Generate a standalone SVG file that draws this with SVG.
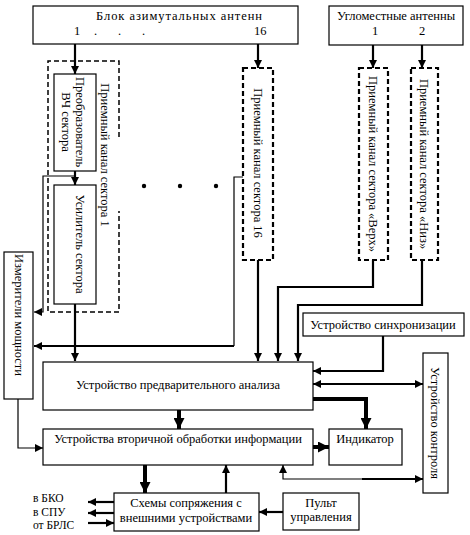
<svg xmlns="http://www.w3.org/2000/svg" width="470" height="535" viewBox="0 0 470 535">
<defs>
<style>
text{font-family:"Liberation Serif","Times New Roman",serif;font-size:12.5px;fill:#000}
.c{text-anchor:middle}
.v{text-anchor:middle;dominant-baseline:central}
.s{font-size:11.5px}
.box{fill:#fff;stroke:#000;stroke-width:1.2}
.d1{fill:none;stroke:#000;stroke-width:1.5;stroke-dasharray:5 3}
.d2{fill:none;stroke:#000;stroke-width:2.2;stroke-dasharray:5 3}
.w1{fill:none;stroke:#000;stroke-width:1.2}
.w2{fill:none;stroke:#000;stroke-width:2.2}
.w3{fill:none;stroke:#000;stroke-width:4}
</style>
<marker id="a" viewBox="0 0 8 8" refX="8" refY="4" markerWidth="8" markerHeight="8" markerUnits="userSpaceOnUse" orient="auto-start-reverse"><path d="M0,0 L8,4 L0,8 z" fill="#000"/></marker>
<marker id="b" viewBox="0 0 10 10" refX="10" refY="5" markerWidth="11" markerHeight="11" markerUnits="userSpaceOnUse" orient="auto"><path d="M0,0 L10,5 L0,10 z" fill="#000"/></marker>
</defs>
<rect width="470" height="535" fill="#fff"/>

<g id="connectors">
<path class="w2" d="M75,44 V74" marker-end="url(#a)"/>
<path class="w2" d="M258,44 V68" marker-end="url(#a)"/>
<path class="w2" d="M373,45 V68" marker-end="url(#a)"/>
<path class="w2" d="M422,45 V68" marker-end="url(#a)"/>
<path class="w2" d="M75,171 V185" marker-end="url(#a)"/>
<path class="w2" d="M75,304 V361" marker-end="url(#a)"/>
<path class="w1" d="M75,176 H43 V312 H34" marker-end="url(#a)"/>
<path class="w1" d="M243,177 H234 V346"/>
<path class="w2" d="M234,346 H34" marker-end="url(#a)"/>
<path class="w2" d="M258,260 V361" marker-end="url(#a)"/>
<path class="w2" d="M373,260 V287 H278 V361" marker-end="url(#a)"/>
<path class="w2" d="M422,260 V305 H298 V361" marker-end="url(#a)"/>
<path class="w2" d="M383,336 V371 H313" marker-end="url(#a)"/>
<path class="w2" d="M313,384 H423" marker-start="url(#a)" marker-end="url(#a)"/>
<path class="w3" d="M313,399 H366 V429" marker-end="url(#b)"/>
<path class="w3" d="M179,410 V429" marker-end="url(#b)"/>
<path class="w1" d="M18,399 V448 H43" marker-end="url(#a)"/>
<path class="w3" d="M313,447 H329" marker-end="url(#b)"/>
<path class="w1" d="M362,479 H283 V465" marker-end="url(#a)"/>
<path class="w2" d="M362,479 H423" marker-end="url(#a)"/>
<path class="w3" d="M145,465 V493" marker-end="url(#b)"/>
<path class="w2" d="M226,493 V465" marker-end="url(#a)"/>
<path class="w2" d="M283,512 H259" marker-end="url(#a)"/>
<path class="w2" d="M114,502 H88" marker-end="url(#a)"/>
<path class="w2" d="M114,513 H88" marker-end="url(#a)"/>
<path class="w2" d="M88,523 H114" marker-end="url(#a)"/>
</g>

<g id="azimuth-antennas">
<rect class="box" x="33" y="6" width="265" height="38"/>
<text x="96" y="20" textLength="166" lengthAdjust="spacing">Блок азимутальных антенн</text>
<text x="74" y="35">1</text>
<text x="94" y="35">.</text>
<text x="118" y="35">.</text>
<text x="142" y="35">.</text>
<text x="254" y="35">16</text>
</g>

<g id="elevation-antennas">
<rect class="box" x="329" y="6" width="134" height="39"/>
<text class="c" x="396" y="20">Угломестные антенны</text>
<text class="c" x="375" y="35">1</text>
<text class="c" x="422" y="35">2</text>
</g>

<g id="sector1">
<path class="d1" d="M119,137 V61 H48 V312 H119 V211"/>
<text class="v" transform="translate(105,155) rotate(90)">Приемный канал сектора 1</text>
</g>

<g id="hf-converter">
<rect class="box" x="54" y="74" width="42" height="97"/>
<text class="v" transform="translate(80,122) rotate(90)">Преобразователь</text>
<text class="v" transform="translate(66,122) rotate(90)">ВЧ сектора</text>
</g>

<g id="amplifier">
<rect class="box" x="54" y="185" width="42" height="119"/>
<text class="v" transform="translate(80,244) rotate(90)">Усилитель сектора</text>
</g>

<g id="dots">
<circle cx="144" cy="186" r="2.2"/>
<circle cx="180" cy="186" r="2.2"/>
<circle cx="216" cy="186" r="2.2"/>
</g>

<g id="sector16">
<rect class="d2" x="243" y="68" width="30" height="192"/>
<text class="v" transform="translate(258,163) rotate(90)">Приемный канал сектора 16</text>
</g>

<g id="sector-verkh">
<rect class="d2" x="359" y="68" width="29" height="192"/>
<text class="v" transform="translate(373,164) rotate(90)">Приемный канал сектора «Верх»</text>
</g>

<g id="sector-niz">
<rect class="d2" x="411" y="68" width="27" height="192"/>
<text class="v" transform="translate(424,164) rotate(90)">Приемный канал сектора «Низ»</text>
</g>

<g id="power-meter">
<rect class="box" x="4" y="252" width="29" height="147"/>
<text class="v" transform="translate(19,315) rotate(90)">Измерители мощности</text>
</g>

<g id="sync">
<rect class="box" x="303" y="313" width="161" height="23"/>
<text class="c" x="383" y="329">Устройство синхронизации</text>
</g>

<g id="prelim">
<rect class="box" x="43" y="362" width="270" height="48"/>
<text class="c" x="178" y="389">Устройство предварительного анализа</text>
</g>

<g id="control">
<rect class="box" x="423" y="353" width="25" height="140"/>
<text class="v" transform="translate(435,423) rotate(90)">Устройство контроля</text>
</g>

<g id="secondary">
<rect class="box" x="43" y="429" width="270" height="36"/>
<text class="c" x="178" y="443">Устройства вторичной обработки информации</text>
</g>

<g id="indicator">
<rect class="box" x="329" y="429" width="73" height="36"/>
<text class="c" x="365" y="443">Индикатор</text>
</g>

<g id="interfaces">
<rect class="box" x="114" y="493" width="145" height="38"/>
<text class="c" x="186" y="507">Схемы сопряжения с</text>
<text class="c" x="186" y="522">внешними устройствами</text>
</g>

<g id="console">
<rect class="box" x="283" y="493" width="76" height="37"/>
<text class="c" x="321" y="507">Пульт</text>
<text class="c" x="321" y="521">управления</text>
</g>

<g id="external-labels">
<text class="s" x="33" y="502">в БКО</text>
<text class="s" x="33" y="515.5">в СПУ</text>
<text class="s" x="33" y="529">от БРЛС</text>
</g>
</svg>
